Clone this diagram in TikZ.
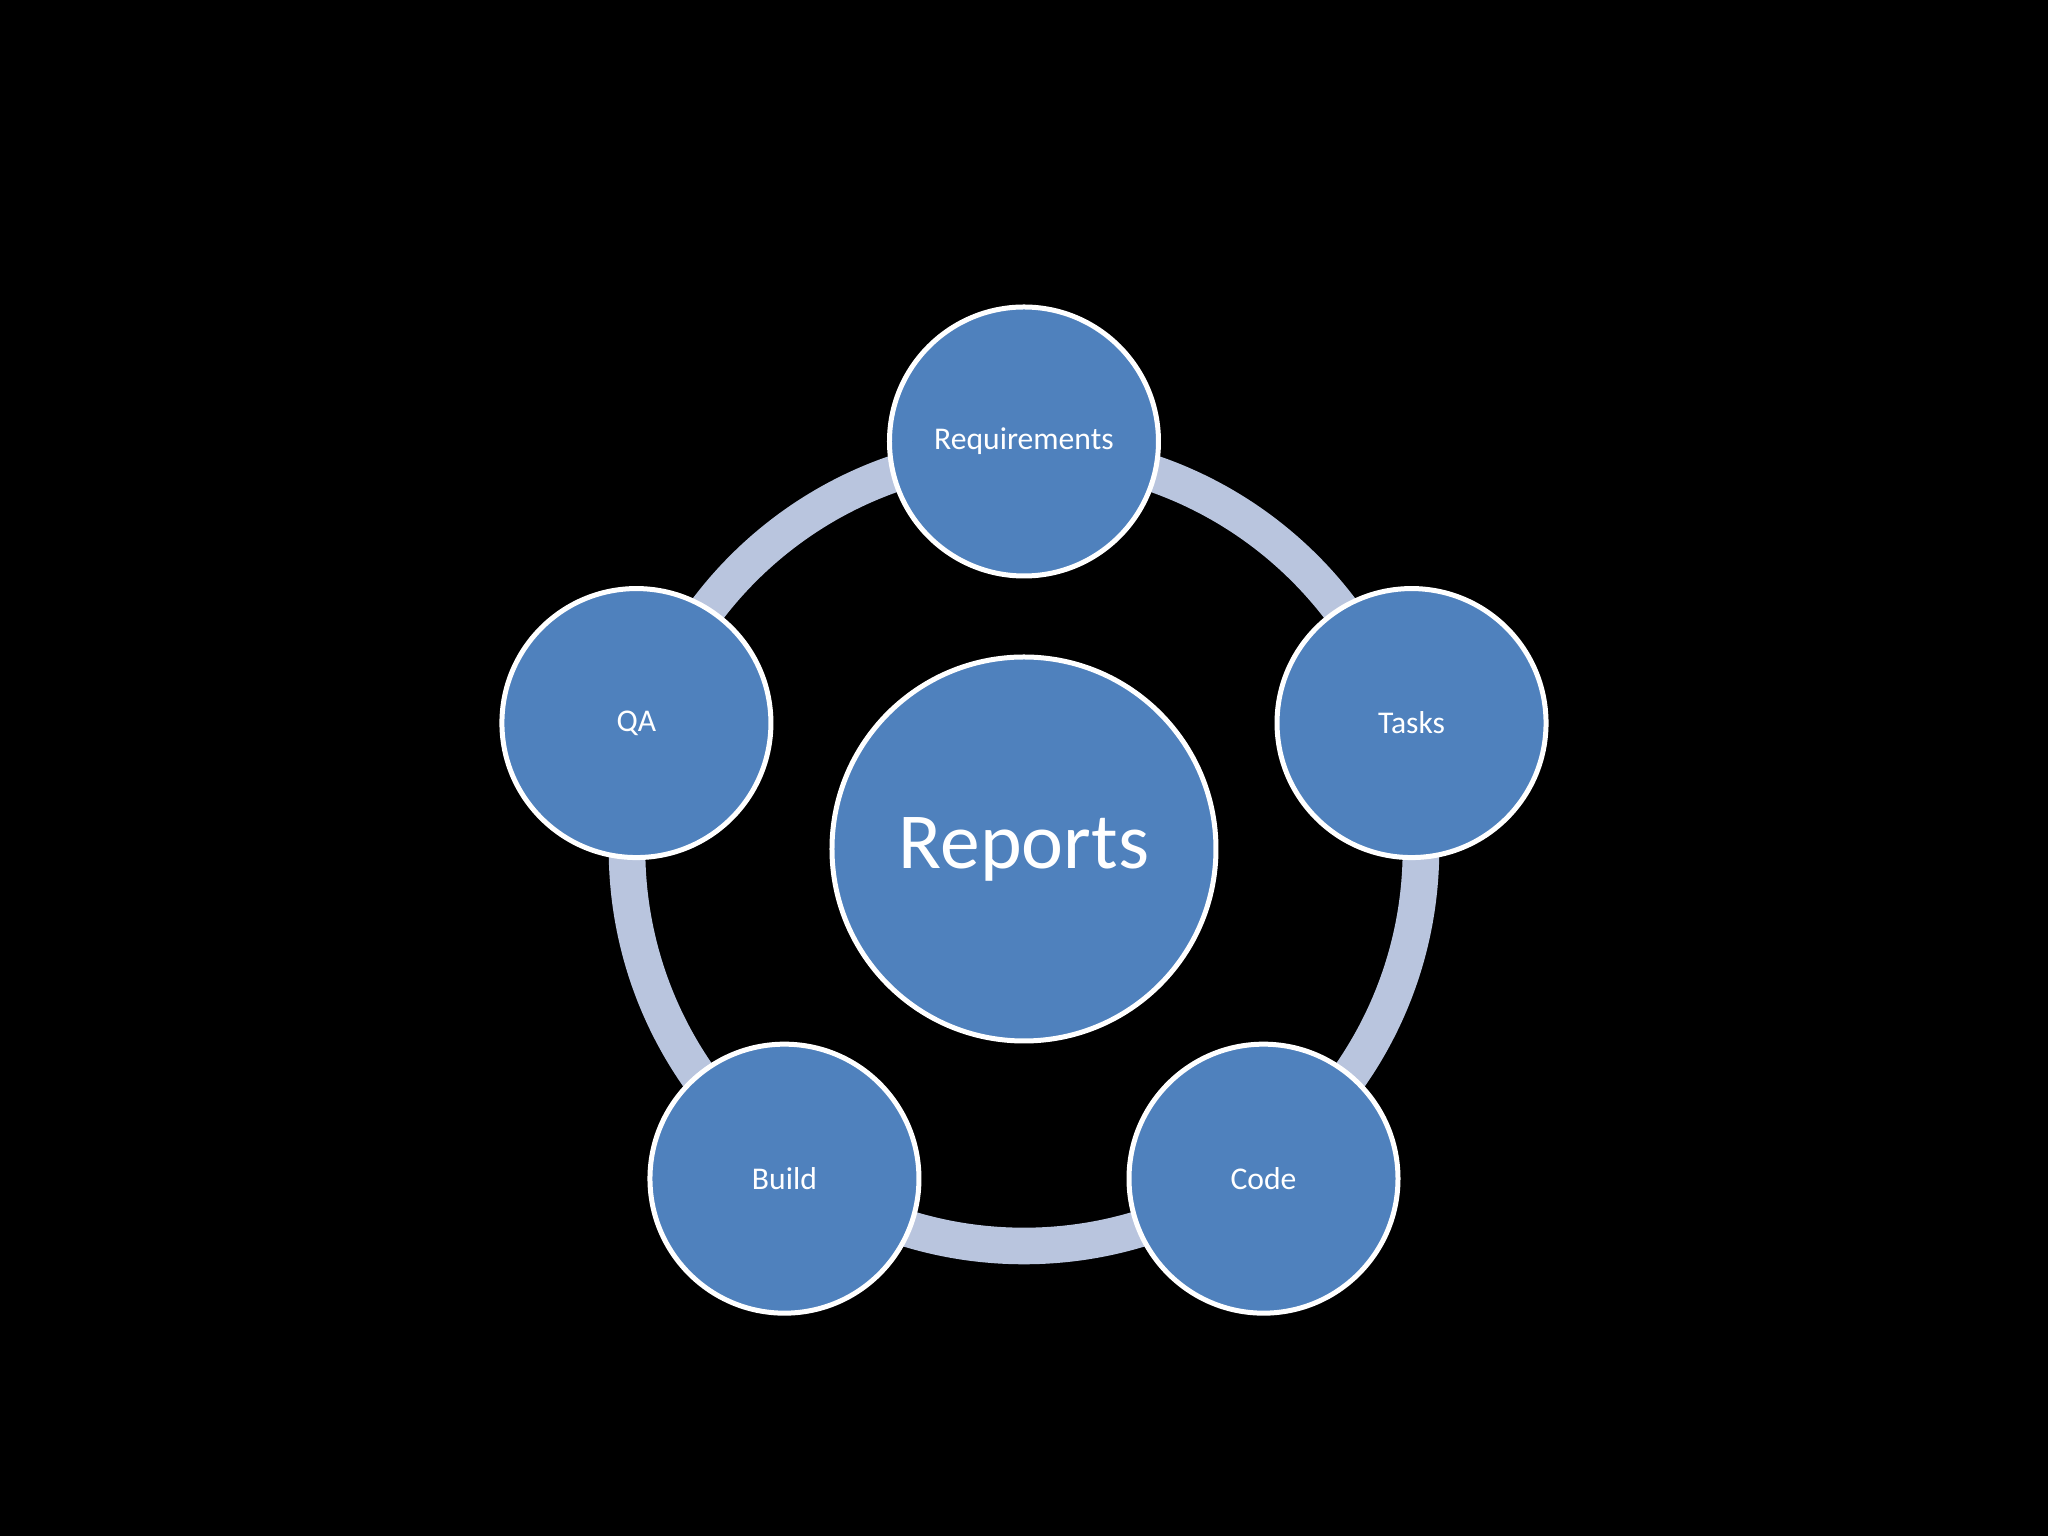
\documentclass[tikz,border=0pt]{standalone}
\usepackage{fontspec}
\setmainfont{Carlito}
\definecolor{hubblue}{HTML}{4F81BD}
\definecolor{ringblue}{HTML}{B9C5DE}

\begin{document}
\begin{tikzpicture}[
    hub/.style={
        draw=white,
        circle,
        line width=0.05cm,
        minimum size=3.84cm,
        fill=hubblue,
        text=white,
        font=\fontsize{22.6}{26}\selectfont
    },
    stage/.style={
        draw=white,
        circle,
        line width=0.05cm,
        minimum size=2.69cm,
        fill=hubblue,
        text=white,
        font=\fontsize{9}{11}\selectfont
    },
    ring/.style={line width=0.366cm, ringblue}
]

\fill[black] (-10.24,-6.87) rectangle (10.24,8.49);
\useasboundingbox (-10.24,-6.87) rectangle (10.24,8.49);

\node[hub] (reports) at (0,0) {Reports};
\draw[ring] (reports.center) circle (3.97cm);

\node[stage] (req) at (90:4.075cm) {Requirements};
\node[stage] (tasks) at (18:4.075cm) {Tasks};
\node[stage] (code) at (-54:4.075cm) {Code};
\node[stage] (build) at (-126:4.075cm) {Build};
\node[stage] (qa) at (162:4.075cm) {QA};

\end{tikzpicture}
\end{document}
